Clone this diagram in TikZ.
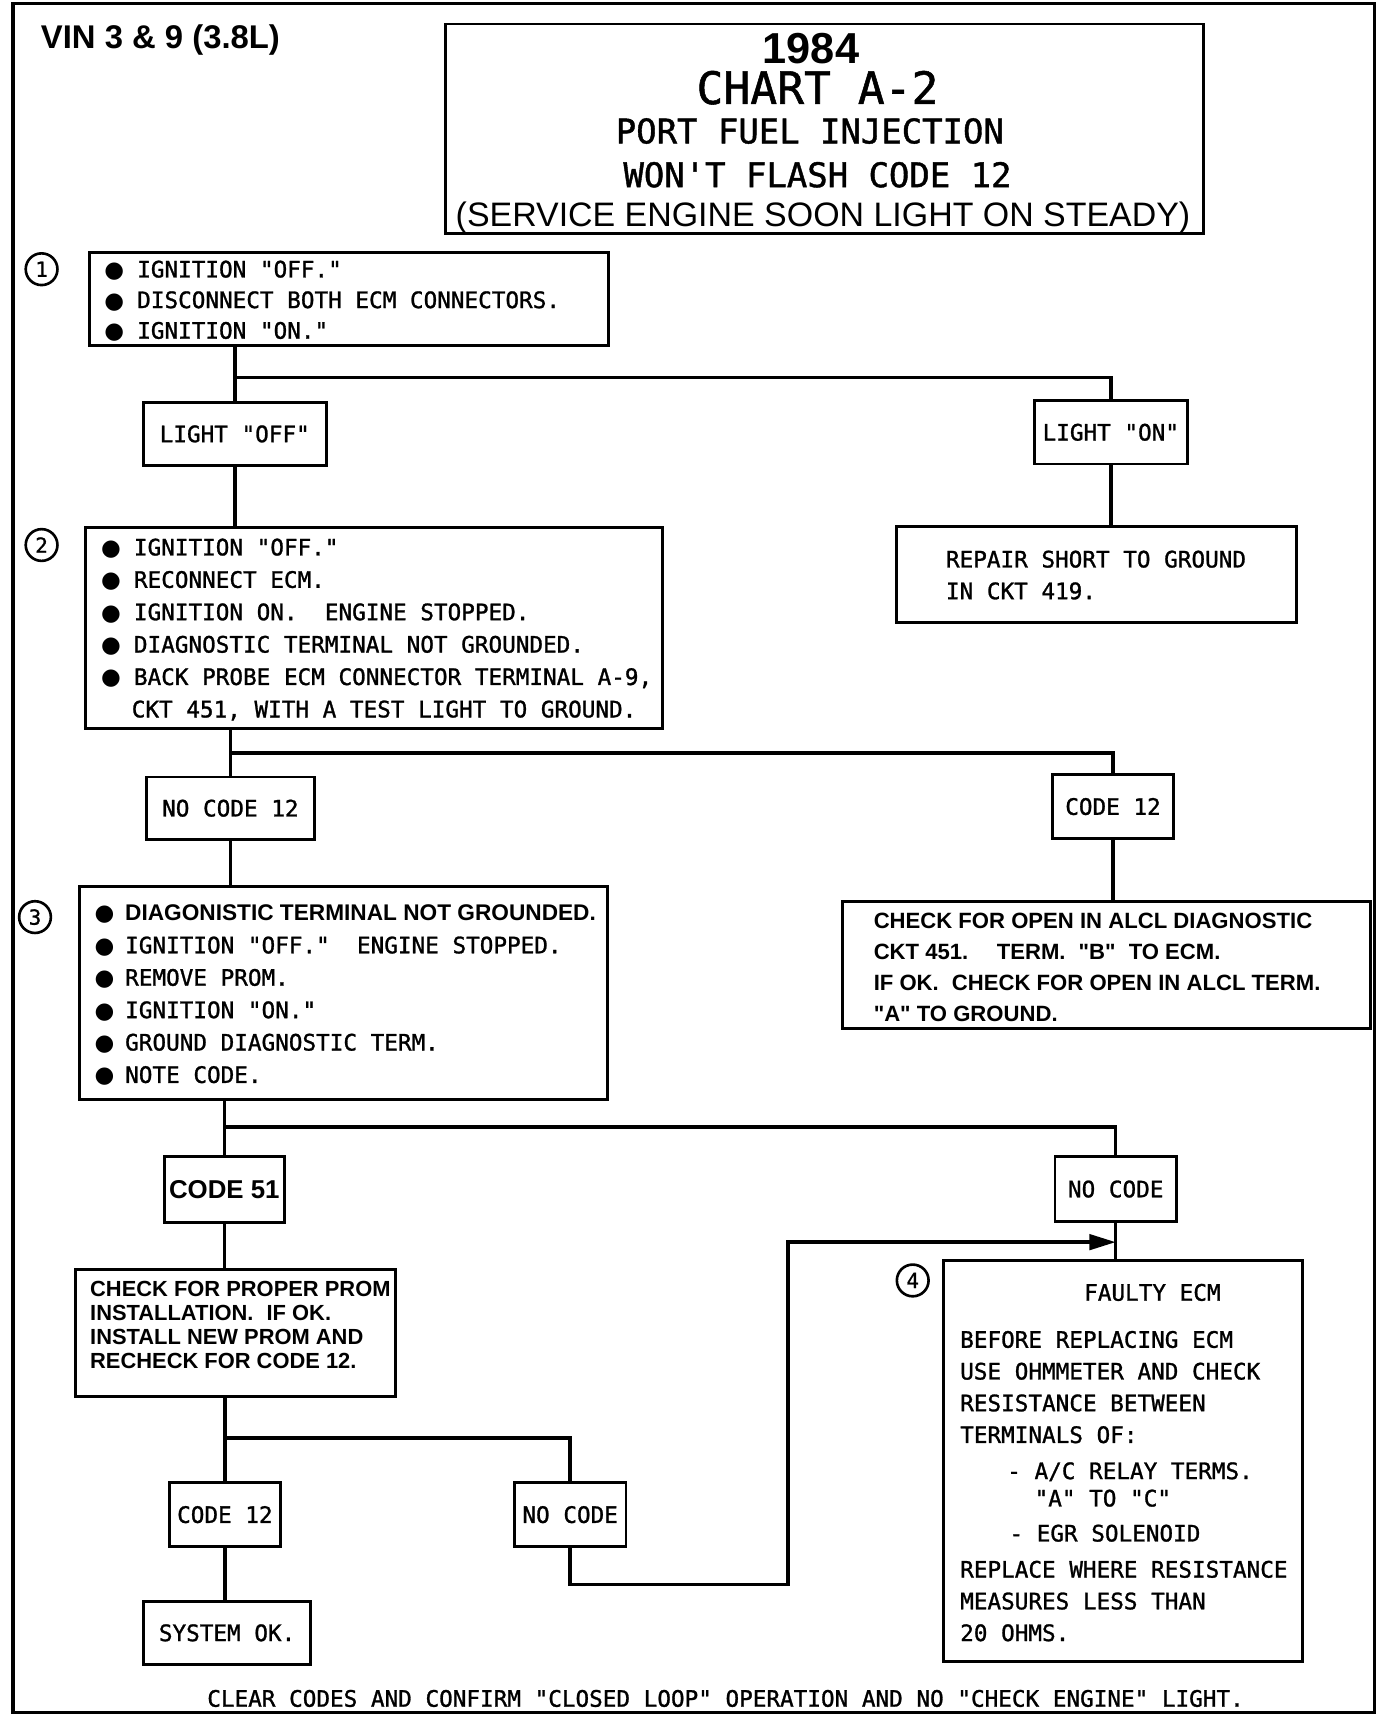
\documentclass[tikz,border=0pt]{standalone}
\usepackage{fontspec}
\setmainfont{Liberation Sans}
\newfontfamily\plotf[FakeBold=1.2]{DejaVu Sans Mono}
\newfontfamily\helv{Liberation Sans}
\newfontfamily\dvs{DejaVu Sans}
\usetikzlibrary{arrows.meta}
\newcommand\bl[1]{\makebox[#1][l]{\dvs ●}}
\frenchspacing
\begin{document}
\begin{tikzpicture}[x=0.5pt,y=-0.5pt,
  box/.style={draw, rectangle, line width=1.3pt, inner sep=0pt},
  lbox/.style={box, font=\plotf\fontsize{10.35}{12}\selectfont},
  conn/.style={line width=1.6pt},
  numc/.style={draw, circle, line width=1.2pt, minimum size=14.5pt, inner sep=0pt, font=\plotf\fontsize{9.5}{9.5}\selectfont},
  ptxt/.style={anchor=base west, inner sep=0pt, align=left}]
\useasboundingbox (0,0) rectangle (1272,1568);
\draw[line width=1.6pt] (12,3) rectangle (1256,1565);

% header
\node[anchor=base west, inner sep=0pt, font=\helv\bfseries\fontsize{15}{16}\selectfont] (vin) at (37,44) {VIN 3 \& 9 (3.8L)};
\node[box, minimum width=346.5pt, minimum height=95.5pt] (title) at (753.5,117.5) {};
\node[anchor=base, inner sep=0pt, font=\helv\bfseries\fontsize{19.8}{20}\selectfont] (ty) at (741,58) {1984};
\node[anchor=base, inner sep=0pt, font=\plotf\fontsize{20.4}{21}\selectfont] (tc) at (747,95) {CHART A-2};
\node[anchor=base, inner sep=0pt, font=\plotf\fontsize{15.5}{16}\selectfont] (tp) at (740,131) {PORT FUEL INJECTION};
\node[anchor=base, inner sep=0pt, font=\plotf\fontsize{15.5}{16}\selectfont] (tw) at (747,171) {WON'T FLASH CODE 12};
\node[anchor=base, inner sep=0pt, font=\helv\fontsize{15.5}{16}\selectfont] (ts) at (752,207) {(SERVICE ENGINE SOON LIGHT ON STEADY)};

% step 1 (multi-line text nodes are anchored at the baseline of their last line)
\node[numc] (n1) at (38,246) {1};
\node[box, minimum width=237pt, minimum height=42.5pt] (b1) at (319,273.5) {};
\node[ptxt, font=\plotf\fontsize{10.35}{14}\selectfont] (t1) at (95,309.5)
 {\bl{15pt}IGNITION "OFF."\\ \bl{15pt}DISCONNECT BOTH ECM CONNECTORS.\\ \bl{15pt}IGNITION "ON."};

\node[lbox, minimum width=83.5pt, minimum height=28.5pt] (lo) at (214.5,396.5) {LIGHT "OFF"};
\node[lbox, minimum width=70pt, minimum height=29pt] (lon) at (1015,395) {LIGHT "ON"};
\node[box, minimum width=183pt, minimum height=44pt] (rep) at (1002,525) {};
\node[ptxt, font=\plotf\fontsize{10.35}{14.5}\selectfont] (trep) at (864,547.5)
 {REPAIR SHORT TO GROUND\\ IN CKT 419.};

% step 2
\node[numc] (n2) at (38,498) {2};
\node[box, minimum width=263.5pt, minimum height=92pt] (b2) at (341.5,574) {};
\node[ptxt, font=\plotf\fontsize{10.35}{14.8}\selectfont] (t2) at (92,655.5)
 {\bl{15pt}IGNITION "OFF."\\
  \bl{15pt}RECONNECT ECM.\\
  \bl{15pt}IGNITION ON.\ \ ENGINE STOPPED.\\
  \bl{15pt}DIAGNOSTIC TERMINAL NOT GROUNDED.\\
  \bl{15pt}BACK PROBE ECM CONNECTOR TERMINAL A-9,\\
  \makebox[14pt]{}CKT 451, WITH A TEST LIGHT TO GROUND.};

\node[lbox, minimum width=76.5pt, minimum height=28.5pt] (nc12) at (210.5,738.5) {NO CODE 12};
\node[lbox, minimum width=55pt, minimum height=29pt] (c12) at (1017,737) {CODE 12};
\node[box, minimum width=241pt, minimum height=58pt] (chk) at (1011,882) {};
\node[ptxt, font=\helv\bfseries\fontsize{10.1}{14.17}\selectfont] (tchk) at (798,933.3)
 {CHECK FOR OPEN IN ALCL DIAGNOSTIC\\
  CKT 451.\hspace{13pt}TERM.\hspace{6pt}"B"\hspace{6pt}TO ECM.\\
  IF OK.\hspace{6pt}CHECK FOR OPEN IN ALCL TERM.\\
  "A" TO GROUND.};

% step 3
\node[numc] (n3) at (32,838) {3};
\node[box, minimum width=241pt, minimum height=97.5pt] (b3) at (314,907.5) {};
\node[ptxt, font=\plotf\fontsize{10.35}{14.8}\selectfont] (t3) at (86,989.5)
 {\bl{14pt}{\helv\bfseries DIAGONISTIC TERMINAL NOT GROUNDED.}\\
  \bl{14pt}IGNITION "OFF."\ \ ENGINE STOPPED.\\
  \bl{14pt}REMOVE PROM.\\
  \bl{14pt}IGNITION "ON."\\
  \bl{14pt}GROUND DIAGNOSTIC TERM.\\
  \bl{14pt}NOTE CODE.};

\node[box, minimum width=55pt, minimum height=30pt, font=\helv\bfseries\fontsize{11.8}{12}\selectfont] (c51) at (205,1087) {CODE 51};
\node[lbox, minimum width=55.5pt, minimum height=29.5pt] (nc) at (1019.5,1086.5) {NO CODE};
\node[box, minimum width=146pt, minimum height=58pt] (prom) at (215,1218) {};
\node[ptxt, font=\helv\bfseries\fontsize{10}{10.85}\selectfont] (tprom) at (82,1250.1)
 {CHECK FOR PROPER PROM\\
  INSTALLATION.\hspace{6pt}IF OK.\\
  INSTALL NEW PROM AND\\
  RECHECK FOR CODE 12.};

\node[lbox, minimum width=50.5pt, minimum height=29pt] (c12b) at (205.5,1384) {CODE 12};
\node[lbox, minimum width=51pt, minimum height=29pt] (ncb) at (521,1384) {NO CODE};
\node[lbox, minimum width=76.5pt, minimum height=29pt] (ok) at (207.5,1492) {SYSTEM OK.};

% step 4
\node[numc] (n4) at (834,1170) {4};
\node[box, minimum width=164pt, minimum height=183pt] (b4) at (1026,1335) {};
\node[anchor=base, inner sep=0pt, font=\plotf\fontsize{10.35}{12}\selectfont] (t4h) at (1053,1188.5) {FAULTY ECM};
\node[ptxt, font=\plotf\fontsize{10.35}{14.5}\selectfont] (t4) at (877,1499.5)
 {BEFORE REPLACING ECM\\
  USE OHMMETER AND CHECK\\
  RESISTANCE BETWEEN\\
  TERMINALS OF:\\[2pt]
  \hspace*{21.5pt}- A/C RELAY TERMS.\\[-2pt]
  \hspace*{34pt}"A" TO "C"\\[1.5pt]
  \hspace*{22.5pt}- EGR SOLENOID\\[2pt]
  REPLACE WHERE RESISTANCE\\
  MEASURES LESS THAN\\
  20 OHMS.};

\node[anchor=base, inner sep=0pt, font=\plotf\fontsize{10.35}{12}\selectfont] (foot) at (663,1559.5)
 {CLEAR CODES AND CONFIRM "CLOSED LOOP" OPERATION AND NO "CHECK ENGINE" LIGHT.};

% connectors
\coordinate (j1) at (0,345);
\coordinate (j2) at (0,688);
\coordinate (j3) at (0,1030);
\coordinate (j4) at (0,1314);
\coordinate (j5) at (720,1448);
\coordinate (j6) at (720,1135);
\draw[conn] (b1.south -| lo.north) -- (lo.north);
\draw[conn] (lo.north |- j1) -| (lon.north);
\draw[conn] (lo.south) -- (lo.south |- b2.north);
\draw[conn] (lon.south) -- (lon.south |- rep.north);
\draw[conn] (b2.south -| nc12.north) -- (nc12.north);
\draw[conn] (nc12.north |- j2) -| (c12.north);
\draw[conn] (nc12.south) -- (nc12.south |- b3.north);
\draw[conn] (c12.south) -- (c12.south |- chk.north);
\draw[conn] (b3.south -| c51.north) -- (c51.north);
\draw[conn] (c51.north |- j3) -| (nc.north);
\draw[conn] (nc.south) -- (nc.south |- b4.north);
\draw[conn] (c51.south) -- (c51.south |- prom.north);
\draw[conn] (prom.south -| c12b.north) -- (c12b.north);
\draw[conn] (c12b.north |- j4) -| (ncb.north);
\draw[conn] (c12b.south) -- (c12b.south |- ok.north);
\draw[conn, -{Triangle[length=12pt,width=7pt]}] (ncb.south) |- (j5) -- (j6) -- (j6 -| nc.south);
\end{tikzpicture}
\end{document}
